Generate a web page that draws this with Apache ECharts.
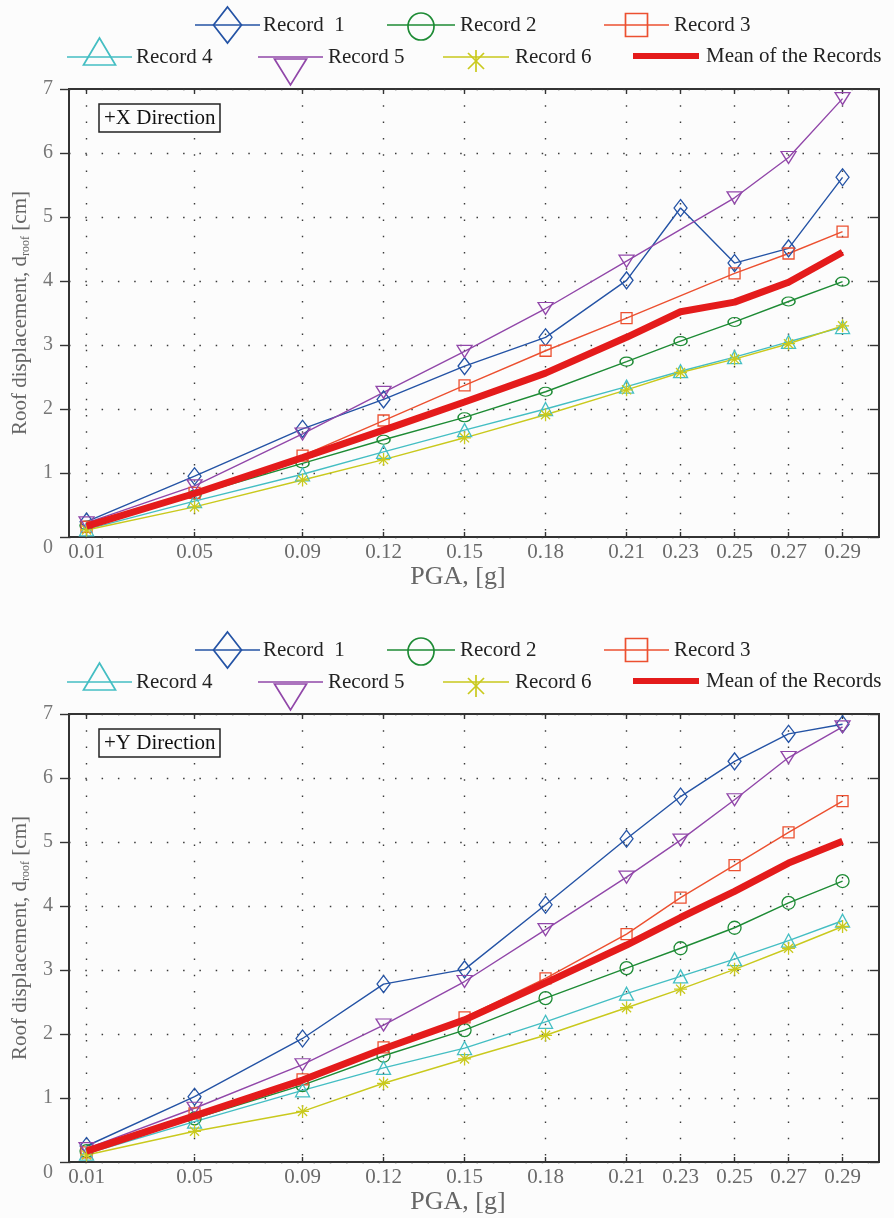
<!DOCTYPE html>
<html>
<head>
<meta charset="utf-8">
<script src="https://cdn.jsdelivr.net/npm/echarts@6/dist/echarts.min.js"></script>
<style>
  html, body { margin: 0; padding: 0; background: #fcfcfc; }
  #chart { width: 894px; height: 1218px; }
</style>
</head>
<body>
<div id="chart"></div>
<script>
// Peak ground acceleration levels (g)
const pga = [0.01, 0.05, 0.09, 0.12, 0.15, 0.18, 0.21, 0.23, 0.25, 0.27, 0.29];
const yTicks = [0, 1, 2, 3, 4, 5, 6, 7];
const seriesNames = ['Record  1', 'Record 2', 'Record 3', 'Record 4', 'Record 5', 'Record 6', 'Mean of the Records'];
const panelLabels = ['+X Direction', '+Y Direction'];

// Roof displacement (cm), +X direction
const xRecord1 = [0.24, 0.95, 1.69, 2.15, 2.67, 3.12, 4.01, 5.14, 4.28, 4.51, 5.62];
const xRecord2 = [0.18, 0.66, 1.15, 1.52, 1.87, 2.27, 2.74, 3.06, 3.36, 3.68, 3.99];
const xRecord3 = [0.16, 0.69, 1.27, 1.82, 2.37, 2.91, 3.42, null, 4.12, 4.43, 4.77];
const xRecord4 = [0.12, 0.56, 0.98, 1.33, 1.67, 2.00, 2.35, 2.59, 2.81, 3.05, 3.28];
const xRecord5 = [0.22, 0.80, 1.61, 2.26, 2.90, 3.57, 4.31, null, 5.30, 5.93, 6.85];
const xRecord6 = [0.11, 0.47, 0.89, 1.21, 1.55, 1.91, 2.30, 2.57, 2.78, 3.02, 3.30];
const xMean    = [0.17, 0.68, 1.24, 1.67, 2.11, 2.56, 3.12, 3.52, 3.67, 3.98, 4.45];

// Roof displacement (cm), +Y direction
const yRecord1 = [0.25, 1.02, 1.93, 2.78, 3.01, 4.02, 5.05, 5.71, 6.26, 6.69, 6.84];
const yRecord2 = [0.17, 0.68, 1.20, 1.66, 2.06, 2.56, 3.03, 3.34, 3.66, 4.05, 4.39];
const yRecord3 = [0.15, 0.76, 1.29, 1.79, 2.26, 2.87, 3.56, 4.13, 4.64, 5.15, 5.64];
const yRecord4 = [0.13, 0.63, 1.12, 1.47, 1.78, 2.19, 2.63, 2.90, 3.17, 3.46, 3.77];
const yRecord5 = [0.21, 0.84, 1.52, 2.14, 2.82, 3.63, 4.45, 5.03, 5.66, 6.32, 6.80];
const yRecord6 = [0.11, 0.48, 0.79, 1.23, 1.61, 1.98, 2.41, 2.70, 3.01, 3.34, 3.68];
const yMean    = [0.17, 0.72, 1.28, 1.77, 2.22, 2.80, 3.39, 3.82, 4.23, 4.67, 5.01];

const panels = [
  [xRecord1, xRecord2, xRecord3, xRecord4, xRecord5, xRecord6, xMean],
  [yRecord1, yRecord2, yRecord3, yRecord4, yRecord5, yRecord6, yMean]
];

const FONT = '"Liberation Serif", "Times New Roman", serif';
const COLORS = ['#2453a5', '#1e8b35', '#ec5030', '#44bec3', '#9147a9', '#c9c91d', '#e41b1b'];
const ASTERISK = 'path://M6,0L6,12M0,6L12,6M1.8,1.8L10.2,10.2M10.2,1.8L1.8,10.2';

// marker look per record, per panel
function markerFor(k, p) {
  switch (k) {
    case 0: return { symbol: 'diamond', symbolSize: [13, 17] };
    case 1: return { symbol: 'circle', symbolSize: p === 0 ? [13, 9] : [13, 13] };
    case 2: return { symbol: 'rect', symbolSize: [11, 11] };
    case 3: return { symbol: 'triangle', symbolSize: [14, 13] };
    case 4: return { symbol: 'triangle', symbolSize: [15, 12], symbolRotate: 180 };
    case 5: return { symbol: ASTERISK, symbolSize: [13, 13] };
    default: return { symbol: 'none' };
  }
}

const PANEL_DY = 625;
const GRID_LEFT = 69, GRID_TOP = 89, GRID_W = 810, GRID_H = 448;
const X_MIN = 0.0035, X_MAX = 0.3035;

const dotted = { type: [1.5, 14.8], color: '#3a3a3a', width: 1.4 };
const tickLine = { color: '#333', width: 1.4 };

const grids = [], xAxes = [], yAxes = [], series = [], titles = [], graphics = [];

panels.forEach((sets, p) => {
  const oy = p * PANEL_DY;
  grids.push({
    left: GRID_LEFT, top: GRID_TOP + oy, width: GRID_W, height: GRID_H,
    show: true, borderColor: '#333', borderWidth: 2, backgroundColor: 'transparent'
  });
  // bottom x axis with labels and vertical dotted grid
  xAxes.push({
    type: 'value', gridIndex: p, min: X_MIN, max: X_MAX, position: 'bottom',
    axisLine: { show: false, onZero: false },
    axisTick: { show: true, inside: true, length: 5, customValues: pga, lineStyle: tickLine },
    axisLabel: {
      customValues: pga, formatter: v => v.toFixed(2), margin: 5,
      fontFamily: FONT, fontSize: 21, color: '#6a6a6a'
    },
    splitLine: { show: true, lineStyle: dotted },
    name: 'PGA, [g]', nameLocation: 'middle', nameGap: 27,
    nameTextStyle: { fontFamily: FONT, fontSize: 26, color: '#666', padding: [0, 32, 0, 0] }
  });
  // top x axis: inward ticks only
  xAxes.push({
    type: 'value', gridIndex: p, min: X_MIN, max: X_MAX, position: 'top',
    axisLine: { show: false, onZero: false },
    axisTick: { show: true, inside: true, length: 5, customValues: pga, lineStyle: tickLine },
    axisLabel: { show: false }, splitLine: { show: false }
  });
  // left y axis with labels and horizontal dotted grid
  yAxes.push({
    type: 'value', gridIndex: p, min: yTicks[0], max: yTicks[yTicks.length - 1], interval: 1, position: 'left',
    axisLine: { show: false, onZero: false },
    axisTick: { show: true, inside: false, length: 9, lineStyle: tickLine },
    axisLabel: {
      margin: 16, fontFamily: FONT, fontSize: 20, color: '#777',
      formatter: v => (v === 0 ? '{z|0}' : String(v)),
      rich: { z: { fontFamily: FONT, fontSize: 20, color: '#777', padding: [22, 0, 0, 0] } }
    },
    splitLine: { show: true, lineStyle: dotted },
    name: '{a|Roof displacement, d}{s|roof}{a| [cm]}',
    nameLocation: 'middle', nameGap: 36, nameRotate: 90,
    nameTextStyle: {
      fontFamily: FONT, fontSize: 21, color: '#666',
      rich: {
        a: { fontFamily: FONT, fontSize: 21, color: '#666' },
        s: { fontFamily: FONT, fontSize: 12, color: '#666', padding: [12, 0, 0, 0] }
      }
    }
  });
  // right y axis: inward ticks only
  yAxes.push({
    type: 'value', gridIndex: p, min: yTicks[0], max: yTicks[yTicks.length - 1], interval: 1, position: 'right',
    axisLine: { show: false, onZero: false },
    axisTick: { show: true, inside: true, length: 9, lineStyle: tickLine },
    axisLabel: { show: false }, splitLine: { show: false }
  });

  sets.forEach((vals, k) => {
    const isMean = k === 6;
    series.push(Object.assign({
      type: 'line', name: seriesNames[k],
      xAxisIndex: p * 2, yAxisIndex: p * 2,
      data: pga.map((x, i) => [x, vals[i] === null ? '-' : vals[i]]),
      connectNulls: true, showAllSymbol: true,
      lineStyle: { color: COLORS[k], width: isMean ? 7 : 1.4 },
      itemStyle: { color: 'transparent', borderColor: COLORS[k], borderWidth: 1.3 },
      emphasis: { disabled: true }, silent: true,
      z: isMean ? 3 : 2
    }, markerFor(k, p)));
  });

  titles.push({
    text: panelLabels[p], left: 99, top: 104 + oy,
    padding: [4, 5, 3, 5], borderColor: '#222', borderWidth: 1.5, backgroundColor: '#fcfcfc',
    textStyle: { fontFamily: FONT, fontSize: 21, fontWeight: 'normal', color: '#111' }
  });

  // legend: line sample, marker, label
  const slots = [
    { x0: 195, x1: 260, y: 25, tx: 263 },
    { x0: 387, x1: 455, y: 25, tx: 460 },
    { x0: 604, x1: 669, y: 25, tx: 674 },
    { x0: 67,  x1: 132, y: 57, tx: 136 },
    { x0: 258, x1: 323, y: 57, tx: 328 },
    { x0: 443, x1: 509, y: 57, tx: 515 },
    { x0: 633, x1: 699, y: 56, tx: 706 }
  ];
  slots.forEach((s, k) => {
    const c = COLORS[k], y = s.y + oy, cx = (s.x0 + s.x1) / 2;
    const ms = { stroke: c, fill: 'none', lineWidth: 1.7 };
    graphics.push({ type: 'line', shape: { x1: s.x0, y1: y, x2: s.x1, y2: y },
      style: { stroke: c, lineWidth: k === 6 ? 6 : 1.6 } });
    if (k === 0) graphics.push({ type: 'polygon', shape: { points: [[cx, y - 18], [cx + 14, y], [cx, y + 18], [cx - 14, y]] }, style: ms });
    if (k === 1) graphics.push({ type: 'ellipse', shape: { cx: cx, cy: y + 1.5, rx: 13, ry: 13.5 }, style: ms });
    if (k === 2) graphics.push({ type: 'rect', shape: { x: cx - 11, y: y - 11.5, width: 22, height: 23 }, style: ms });
    if (k === 3) graphics.push({ type: 'polygon', shape: { points: [[cx, y - 19], [cx + 16, y + 8], [cx - 16, y + 8]] }, style: ms });
    if (k === 4) graphics.push({ type: 'polygon', shape: { points: [[cx - 16, y + 2], [cx + 16, y + 2], [cx, y + 28]] }, style: ms });
    if (k === 5) {
      const ay = y + 4;
      graphics.push({ type: 'line', shape: { x1: cx, y1: ay - 11, x2: cx, y2: ay + 11 }, style: ms });
      graphics.push({ type: 'line', shape: { x1: cx - 8, y1: ay - 8, x2: cx + 8, y2: ay + 8 }, style: ms });
      graphics.push({ type: 'line', shape: { x1: cx + 8, y1: ay - 8, x2: cx - 8, y2: ay + 8 }, style: ms });
    }
    graphics.push({ type: 'text', x: s.tx, y: y,
      style: { text: seriesNames[k], font: '21px ' + FONT, fill: '#222', verticalAlign: 'middle', align: 'left' } });
  });
});

const chart = echarts.init(document.getElementById('chart'), null, { renderer: 'canvas' });
chart.setOption({
  backgroundColor: '#fcfcfc',
  animation: false,
  title: titles,
  grid: grids,
  xAxis: xAxes,
  yAxis: yAxes,
  series: series,
  graphic: graphics
});
</script>
</body>
</html>
